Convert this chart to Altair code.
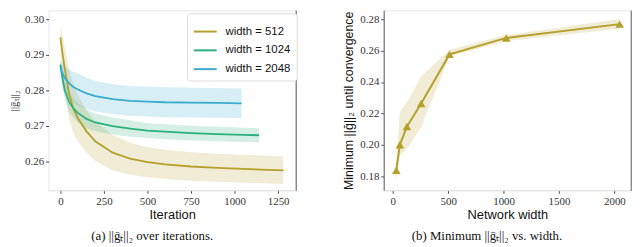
import altair as alt
import pandas as pd

# ---------------- data: panel (a) ----------------
labels = ["width = 512", "width = 1024", "width = 2048"]
colors = ["#b5a02c", "#2bb07c", "#3aaace"]

it_512 = [0, 10, 25, 50, 75, 100, 150, 200, 300, 400, 500, 600, 750, 900, 1050, 1150, 1280]
mean_512 = [0.2950, 0.2912, 0.2862, 0.2790, 0.2748, 0.2722, 0.2685, 0.2657, 0.2625, 0.2608,
            0.2598, 0.2592, 0.2586, 0.2582, 0.2579, 0.2577, 0.2575]
lo_512 = [0.2915, 0.2862, 0.2800, 0.2720, 0.2680, 0.2657, 0.2625, 0.2602, 0.2575, 0.2563,
          0.2556, 0.2551, 0.2546, 0.2543, 0.2540, 0.2539, 0.2537]
hi_512 = [0.2985, 0.2962, 0.2924, 0.2860, 0.2816, 0.2787, 0.2745, 0.2712, 0.2675, 0.2653,
          0.2640, 0.2633, 0.2626, 0.2622, 0.2619, 0.2617, 0.2614]

it_1024 = [0, 10, 25, 50, 75, 100, 150, 200, 300, 400, 500, 600, 750, 900, 1050, 1140]
mean_1024 = [0.2873, 0.2840, 0.2800, 0.2768, 0.2750, 0.2737, 0.2720, 0.2710, 0.2700, 0.2693,
             0.2687, 0.2684, 0.2680, 0.2677, 0.2675, 0.2674]
lo_1024 = [0.2858, 0.2818, 0.2775, 0.2740, 0.2723, 0.2710, 0.2694, 0.2685, 0.2676, 0.2670,
           0.2666, 0.2663, 0.2659, 0.2657, 0.2655, 0.2654]
hi_1024 = [0.2888, 0.2862, 0.2825, 0.2796, 0.2777, 0.2764, 0.2746, 0.2735, 0.2724, 0.2716,
           0.2708, 0.2705, 0.2701, 0.2698, 0.2695, 0.2694]

it_2048 = [0, 10, 25, 50, 75, 100, 150, 200, 300, 400, 500, 600, 750, 900, 1040]
mean_2048 = [0.2868, 0.2852, 0.2835, 0.2820, 0.2810, 0.2803, 0.2792, 0.2784, 0.2776, 0.2771,
             0.2769, 0.2767, 0.2766, 0.2765, 0.2764]
lo_2048 = [0.2850, 0.2824, 0.2802, 0.2780, 0.2767, 0.2757, 0.2748, 0.2741, 0.2734, 0.2729,
           0.2727, 0.2725, 0.2724, 0.2723, 0.2722]
hi_2048 = [0.2886, 0.2880, 0.2868, 0.2860, 0.2853, 0.2849, 0.2836, 0.2827, 0.2818, 0.2813,
           0.2811, 0.2809, 0.2808, 0.2807, 0.2806]

# ---------------- data: panel (b) ----------------
net_width = [32, 64, 128, 256, 512, 1024, 2048]
min_mean = [0.1838, 0.2000, 0.2116, 0.2263, 0.2576, 0.2681, 0.2769]
min_lo = [0.1768, 0.1935, 0.1975, 0.2112, 0.2563, 0.2661, 0.2739]
min_hi = [0.1886, 0.2210, 0.2270, 0.2435, 0.2606, 0.2700, 0.2802]

x_ticks_a = [0, 250, 500, 750, 1000, 1250]
y_ticks_a = [0.26, 0.27, 0.28, 0.29, 0.30]
x_ticks_b = [0, 500, 1000, 1500, 2000]
y_ticks_b = [0.18, 0.20, 0.22, 0.24, 0.26, 0.28]

SERIF = "Liberation Serif"
SANS = "Liberation Sans"

rows = []
for lab, its, m, lo, hi in [
    (labels[0], it_512, mean_512, lo_512, hi_512),
    (labels[1], it_1024, mean_1024, lo_1024, hi_1024),
    (labels[2], it_2048, mean_2048, lo_2048, hi_2048),
]:
    for i, a, b, c in zip(its, m, lo, hi):
        rows.append({"series": lab, "iter": i, "mean": a, "lo": b, "hi": c})
df_a = pd.DataFrame(rows)

df_b = pd.DataFrame({"w": net_width, "mean": min_mean, "lo": min_lo, "hi": min_hi})

W1, W2, H = 250, 250, 182

xs_a = alt.Scale(domain=[-68, 1351], nice=False, zero=False)
ys_a = alt.Scale(domain=[0.2519, 0.3026], nice=False, zero=False)
xs_b = alt.Scale(domain=[-81, 2150], nice=False, zero=False)
ys_b = alt.Scale(domain=[0.1710, 0.2857], nice=False, zero=False)


def x_axis(vals, title):
    return alt.Axis(values=vals, title=title, grid=False, tickSize=3, tickColor="#444",
                    domainColor="#e2e2e2", labelFont=SERIF, labelFontSize=11,
                    labelColor="#333", labelPadding=2, titleFont=SANS, titleFontSize=13,
                    titleFontWeight="normal", titleColor="#111", titlePadding=3, format="d")


def right_axis():
    return alt.Axis(orient="right", labels=False, ticks=False, title=None, grid=False,
                    domainColor="#8a8a8a", domainWidth=1.5)


color_scale = alt.Scale(domain=labels, range=colors)
legend_a = alt.Legend(
    title=None, orient="none", legendX=140, legendY=3, padding=6, fillColor="white",
    strokeColor="#dddddd", cornerRadius=3, symbolType="stroke", symbolSize=529,
    symbolStrokeWidth=2, symbolOpacity=1, labelFont=SANS, labelFontSize=11.5,
    labelColor="#111", labelOffset=8, rowPadding=1)

band_a = alt.Chart(df_a).mark_area(opacity=0.2).encode(
    x=alt.X("iter:Q", scale=xs_a, axis=x_axis(x_ticks_a, "Iteration")),
    y=alt.Y("lo:Q", scale=ys_a, axis=alt.Axis(
        values=y_ticks_a, format=".2f", grid=False, tickSize=3, tickColor="#444",
        domain=False, labelFont=SERIF, labelFontSize=11, labelColor="#333", labelPadding=2,
        title="||ḡₜ||₂", titleFont=SERIF, titleFontSize=11, titleFontWeight="normal",
        titleColor="#222", titlePadding=5)),
    y2="hi:Q",
    color=alt.Color("series:N", scale=color_scale, legend=legend_a),
)

line_a = alt.Chart(df_a).mark_line(strokeWidth=1.8).encode(
    x=alt.X("iter:Q", scale=xs_a),
    y=alt.Y("mean:Q", scale=ys_a, axis=right_axis()),
    color=alt.Color("series:N", scale=color_scale, legend=legend_a),
)

panel_a = alt.layer(band_a, line_a).resolve_axis(y="independent").properties(
    width=W1, height=H,
    title=alt.TitleParams("(a) ||ḡₜ||₂ over iterations.", orient="bottom", font=SERIF,
                          fontSize=13, fontWeight="normal", color="#111", offset=8,
                          anchor="middle", frame="bounds"),
)

olive = colors[0]
band_b = alt.Chart(df_b).mark_area(opacity=0.2, color=olive).encode(
    x=alt.X("w:Q", scale=xs_b, axis=x_axis(x_ticks_b, "Network width")),
    y=alt.Y("lo:Q", scale=ys_b, axis=alt.Axis(
        values=y_ticks_b, format=".2f", grid=False, tickSize=3, tickColor="#444",
        domainColor="#8a8a8a", domainWidth=1.5, labelFont=SERIF, labelFontSize=11,
        labelColor="#333", labelPadding=2, title="Minimum ||ḡ||₂ until convergence",
        titleFont=SANS, titleFontSize=12.5, titleFontWeight="normal", titleColor="#111",
        titlePadding=4)),
    y2="hi:Q",
)
line_b = alt.Chart(df_b).mark_line(color=olive, strokeWidth=2).encode(
    x=alt.X("w:Q", scale=xs_b),
    y=alt.Y("mean:Q", scale=ys_b, axis=right_axis()))
pts_b = alt.Chart(df_b).mark_point(shape="triangle-up", filled=True, opacity=1,
                                   color=olive, size=75).encode(
    x=alt.X("w:Q", scale=xs_b),
    y=alt.Y("mean:Q", scale=ys_b, axis=right_axis()))

panel_b = alt.layer(band_b, line_b, pts_b).resolve_axis(y="independent").properties(
    width=W2, height=H,
    title=alt.TitleParams("(b) Minimum ||ḡₜ||₂ vs. width.", orient="bottom", font=SERIF,
                          fontSize=13, fontWeight="normal", color="#111", offset=8,
                          anchor="middle", frame="bounds"),
)

chart = alt.hconcat(panel_a, panel_b, spacing=46).configure(
    padding=0, background="white"
).configure_view(stroke="#e6e6e6", strokeWidth=1)

chart.save("out.html", embed_options={"renderer": "svg", "actions": False})
